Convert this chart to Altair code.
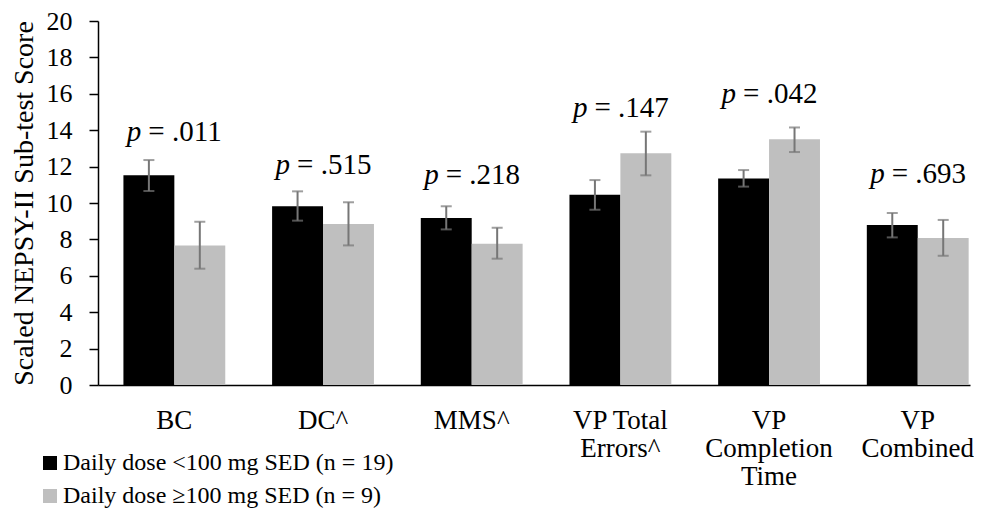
import altair as alt
import pandas as pd

categories = ["BC", "DC^", "MMS^", "VP Total|Errors^", "VP|Completion|Time", "VP|Combined"]
groups = ["Daily dose <100 mg SED (n = 19)", "Daily dose \u2265100 mg SED (n = 9)"]
low_mean = [11.52, 9.82, 9.18, 10.46, 11.35, 8.79]
low_err_hi = [12.36, 10.64, 9.82, 11.26, 11.81, 9.45]
low_err_lo = [10.66, 9.03, 8.55, 9.63, 10.90, 8.11]
high_mean = [7.67, 8.85, 7.76, 12.73, 13.50, 8.08]
high_err_hi = [8.97, 10.04, 8.64, 13.92, 14.15, 9.07]
high_err_lo = [6.39, 7.67, 6.94, 11.52, 12.80, 7.10]
p_text = ["= .011", "= .515", "= .218", "= .147", "= .042", "= .693"]
p_label_y = [13.4, 11.6, 11.05, 14.7, 15.5, 11.1]
y_ticks = [0, 2, 4, 6, 8, 10, 12, 14, 16, 18, 20]

FONT = "Liberation Serif"
YTITLE = "Scaled NEPSY-II Sub-test Score"

rows = []
for i, c in enumerate(categories):
    rows.append({"cat": c, "group": groups[0], "mean": low_mean[i], "hi": low_err_hi[i], "lo": low_err_lo[i]})
    rows.append({"cat": c, "group": groups[1], "mean": high_mean[i], "hi": high_err_hi[i], "lo": high_err_lo[i]})
df = pd.DataFrame(rows)
pdf = pd.DataFrame({"cat": categories, "p": ["p"] * len(categories), "txt": p_text, "y": p_label_y})

xscale = alt.Scale(domain=categories, paddingInner=0.315, paddingOuter=0.09, align=0.95)
xaxis = alt.Axis(title=None, labelAngle=0, ticks=False, domainColor="black", domainWidth=1.5,
                 labelExpr="split(datum.label, '|')", labelLineHeight=28,
                 labelFont=FONT, labelFontSize=27, labelColor="black", labelPadding=22,
                 labelLimit=0)
xenc = alt.X("cat:N", sort=categories, scale=xscale, axis=xaxis)
yscale = alt.Scale(domain=[0, 20], nice=False, zero=True)
yaxis = alt.Axis(title=YTITLE, values=y_ticks, tickCount=11, grid=False,
                 labelOverlap=False,
                 tickSize=9, tickColor="black", tickWidth=1.5, domainColor="black", domainWidth=1.5,
                 labelFont=FONT, labelFontSize=26, labelColor="black", labelPadding=17,
                 titleFont=FONT, titleFontSize=28, titleFontWeight="normal", titleColor="black",
                 titlePadding=8)


def yenc(field):
    return alt.Y(field, scale=yscale, axis=yaxis, title=YTITLE)


xoff = alt.XOffset("group:N", sort=groups, scale=alt.Scale(domain=groups, paddingInner=0, paddingOuter=0))

bars = alt.Chart(df).mark_bar().encode(
    x=xenc,
    xOffset=xoff,
    y=yenc("mean:Q"),
    color=alt.Color("group:N", sort=groups,
                    scale=alt.Scale(domain=groups, range=["#000000", "#bfbfbf"]),
                    legend=alt.Legend(title=None, orient="none", legendX=-60, legendY=430, padding=0,
                                      symbolType="square", symbolSize=196, symbolStrokeWidth=0,
                                      labelFont=FONT, labelFontSize=24, labelColor="black",
                                      labelOffset=1, rowPadding=9, labelLimit=0)),
)

err = alt.Chart(df).mark_rule(color="#767676", strokeWidth=2).encode(
    x=xenc, xOffset=xoff, y=yenc("lo:Q"), y2="hi:Q")
cap_hi = alt.Chart(df).mark_tick(color="#767676", thickness=2, size=11).encode(
    x=xenc, xOffset=xoff, y=yenc("hi:Q"))
cap_lo = alt.Chart(df).mark_tick(color="#767676", thickness=2, size=11).encode(
    x=xenc, xOffset=xoff, y=yenc("lo:Q"))

p_it = alt.Chart(pdf).mark_text(font=FONT, fontStyle="italic", fontSize=29, align="right",
                                baseline="alphabetic", dx=-33, color="black").encode(
    x=xenc, y=yenc("y:Q"), text="p:N")
p_rest = alt.Chart(pdf).mark_text(font=FONT, fontSize=29, align="left",
                                  baseline="alphabetic", dx=-26, color="black").encode(
    x=xenc, y=yenc("y:Q"), text="txt:N")

chart = alt.layer(bars, err, cap_hi, cap_lo, p_it, p_rest).properties(
    width=872, height=364,
    padding={"left": 2, "top": 0, "right": 0, "bottom": 0},
).configure_view(stroke=None)

chart.save("out.html", embed_options={"renderer": "svg", "actions": False})
